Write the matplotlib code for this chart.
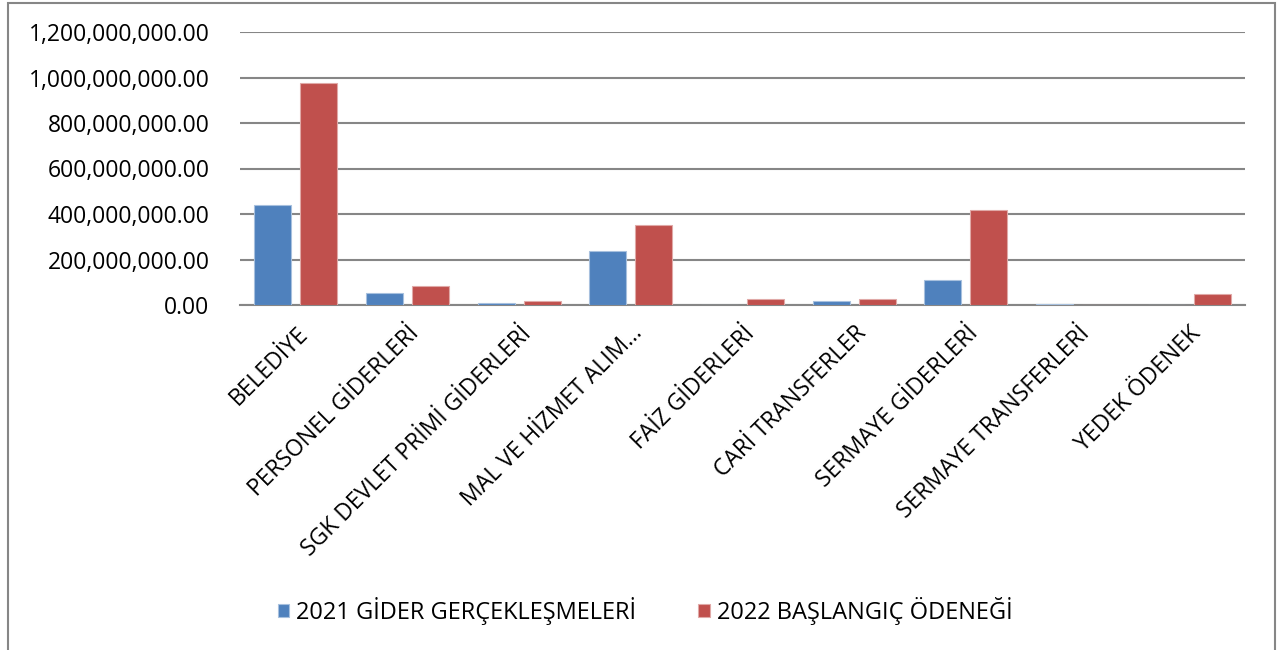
import numpy as np
import matplotlib.pyplot as plt
from matplotlib.patches import Rectangle
from matplotlib.ticker import FuncFormatter

# veriler (grafikten okunan tahmini degerler)
kategoriler = ["BELEDİYE", "PERSONEL GİDERLERİ", "SGK DEVLET PRİMİ GİDERLERİ",
               "MAL VE HİZMET ALIM…", "FAİZ GİDERLERİ", "CARİ TRANSFERLER",
               "SERMAYE GİDERLERİ", "SERMAYE TRANSFERLERİ", "YEDEK ÖDENEK"]
gider_2021 = [440e6, 54e6, 7.5e6, 236e6, 1e6, 17e6, 110e6, 3e6, 0]
odenek_2022 = [976e6, 82e6, 17e6, 350e6, 26e6, 26e6, 419e6, 1.5e6, 50e6]
seri_adlari = ["2021 GİDER GERÇEKLEŞMELERİ", "2022 BAŞLANGIÇ ÖDENEĞİ"]

plt.rcParams['font.family'] = ['Open Sans', 'DejaVu Sans']

fig = plt.figure(figsize=(12.85, 6.5), dpi=100)
ax = fig.add_axes([240/1285, 1 - 305/650, 1005/1285, 273/650])

# cerceve (alt kenar resmin disinda)
fig.patches.append(Rectangle((7.5/1285, -0.05), 1267/1285, 1.05 - 3.5/650, transform=fig.transFigure,
                             fill=False, edgecolor='#868686', linewidth=1.5))

x = np.arange(len(kategoriler))
w = 0.33
ax.bar(x - 0.206, gider_2021, w, color='#4F81BD', edgecolor='#A7C0DE', linewidth=0.8,
       label=seri_adlari[0], zorder=3)
ax.bar(x + 0.206, odenek_2022, w, color='#C0504D', edgecolor='#E0A9A7', linewidth=0.8,
       label=seri_adlari[1], zorder=3)

ax.set_xlim(-0.5, len(kategoriler) - 0.5)
ax.set_ylim(0, 1.2e9)
ax.set_yticks(np.arange(0, 1.21e9, 2e8))
ax.yaxis.set_major_formatter(FuncFormatter(lambda v, p: f"{v:,.2f}"))
ax.grid(axis='y', color='#868686', linewidth=1.5, zorder=0)
for s in ['left', 'right', 'top']:
    ax.spines[s].set_visible(False)
ax.spines['bottom'].set_color('#868686')
ax.spines['bottom'].set_linewidth(1.5)
ax.tick_params(axis='y', length=0, pad=22, labelsize=16.5)
ax.tick_params(axis='x', length=0, pad=12, labelsize=16.5)

ax.set_xticks(x)
ax.set_xticklabels(kategoriler, rotation=45, ha='right', rotation_mode='anchor')

ax.legend(loc='center', bbox_to_anchor=(645/1285, 1 - 611/650), bbox_transform=fig.transFigure,
          ncol=2, frameon=False, fontsize=17, handlelength=0.5, handleheight=0.5,
          handletextpad=0.3, columnspacing=2.6)

fig.savefig("out.png", dpi=100)
